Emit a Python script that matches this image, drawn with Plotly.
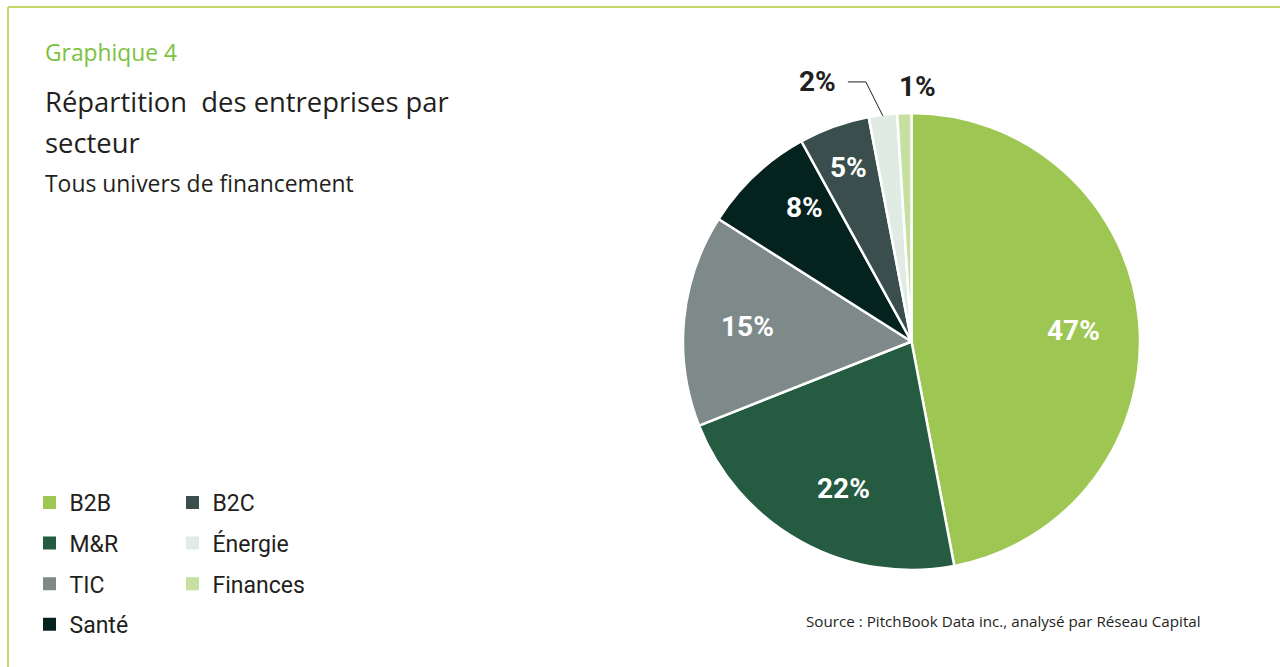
import math
import plotly.graph_objects as go

# Data
sectors = ["B2B", "M&R", "TIC", "Santé", "B2C", "Énergie", "Finances"]
shares = [47, 22, 15, 8, 5, 2, 1]
colors = ["#9dc652", "#245b41", "#7e8a89", "#05231e", "#3a4f4d", "#e0ebe4", "#c5e0a0"]
legend_col1 = ["B2B", "M&R", "TIC", "Santé"]
legend_col2 = ["B2C", "Énergie", "Finances"]

W, H = 1280, 667
TEXT = "#231f20"
FRAME = "#b3cb3b"


def px(x):
    return x / W


def py(y):
    return 1 - y / H


# Pie geometry in pixels
CX, CY, R = 911.5, 341.5, 228.5

fig = go.Figure()
fig.add_trace(go.Pie(
    labels=sectors,
    values=shares,
    sort=False,
    direction="clockwise",
    rotation=0,
    marker=dict(colors=colors, line=dict(color="white", width=2.5)),
    textinfo="none",
    hoverinfo="label+percent",
    showlegend=False,
    domain=dict(x=[px(CX - R), px(CX + R)], y=[py(CY + R), py(CY - R)]),
))

# Legend entries as square markers, split in two columns
for col, names in (("legend", legend_col1), ("legend2", legend_col2)):
    for name in names:
        i = sectors.index(name)
        fig.add_trace(go.Scatter(
            x=[None], y=[None], mode="markers", name=name,
            marker=dict(symbol="square", size=13, color=colors[i]),
            legend=col, legendgroup=name, showlegend=True,
        ))

# Slice labels placed near each slice's mid-angle
label_radius = [0.71, 0.71, 0.72, 0.75, 0.81]
label_turn = [1.5, -4.0, 0.0, 4.5, 0.0]  # small angular nudges, degrees
LABEL_FONT = dict(family="Roboto", size=28, weight="bold")
annotations = []
cum = 0
mids = []
for v in shares:
    mids.append((cum + v / 2) / sum(shares) * 2 * math.pi)
    cum += v
for k, v in enumerate(shares):
    if v >= 5:
        r = label_radius[k] * R
        a = mids[k] + math.radians(label_turn[k])
        x = CX + r * math.sin(a)
        y = CY - r * math.cos(a)
        annotations.append(dict(
            x=px(x), y=py(y), xanchor="center", text=f"{v}%",
            font=dict(color="white", **LABEL_FONT),
        ))

# Small slices labelled outside
k2 = shares.index(2)
ex = CX + R * math.sin(mids[k2])
ey = CY - R * 0.995 * math.cos(mids[k2])
elbow_x, elbow_y = ex - 17, ey - 34
fig.add_shape(type="path",
              path=f"M {px(elbow_x - 18)} {py(elbow_y)} L {px(elbow_x)} {py(elbow_y)} L {px(ex)} {py(ey)}",
              xref="paper", yref="paper", line=dict(color=TEXT, width=1))
annotations.append(dict(
    x=px(elbow_x - 28), y=py(elbow_y), xanchor="right", text=f"{shares[k2]}%",
    font=dict(color=TEXT, **LABEL_FONT),
))
k1 = shares.index(1)
annotations.append(dict(
    x=px(917), y=py(86), xanchor="center", text=f"{shares[k1]}%",
    font=dict(color=TEXT, **LABEL_FONT),
))

# Headings and source
annotations += [
    dict(x=px(43), y=py(52), text="Graphique 4", xanchor="left",
         font=dict(family="Open Sans", size=22.8, color="#7dc142")),
    dict(x=px(43), y=py(101), text="Répartition  des entreprises par", xanchor="left",
         font=dict(family="Open Sans", size=27.4, color=TEXT)),
    dict(x=px(43), y=py(142), text="secteur", xanchor="left",
         font=dict(family="Open Sans", size=27.4, color=TEXT)),
    dict(x=px(43), y=py(183), text="Tous univers de financement", xanchor="left",
         font=dict(family="Open Sans", size=22.9, color=TEXT)),
    dict(x=px(1203), y=py(621), text="Source : PitchBook Data inc., analysé par Réseau Capital",
         xanchor="right", font=dict(family="Open Sans", size=15.2, color=TEXT)),
]
for a in annotations:
    a.setdefault("xref", "paper")
    a.setdefault("yref", "paper")
    a.setdefault("showarrow", False)
    a.setdefault("yanchor", "middle")

# Frame lines on top and left
fig.add_shape(type="line", x0=px(8), x1=1, y0=py(7), y1=py(7), xref="paper", yref="paper",
              line=dict(color=FRAME, width=1.5))
fig.add_shape(type="line", x0=px(8), x1=px(8), y0=py(7), y1=0, xref="paper", yref="paper",
              line=dict(color=FRAME, width=1.5))

legend_style = dict(
    orientation="v", yanchor="top", xanchor="left",
    font=dict(family="Roboto", size=23, color=TEXT),
    bgcolor="rgba(0,0,0,0)", tracegroupgap=7.7, itemclick=False, itemdoubleclick=False,
)
fig.update_layout(
    width=W, height=H,
    margin=dict(l=0, r=0, t=0, b=0),
    paper_bgcolor="white", plot_bgcolor="white",
    xaxis=dict(visible=False), yaxis=dict(visible=False),
    annotations=annotations,
    legend=dict(x=px(29.5), y=py(481), **legend_style),
    legend2=dict(x=px(172.5), y=py(481), **legend_style),
)

fig.write_html("out.html")
